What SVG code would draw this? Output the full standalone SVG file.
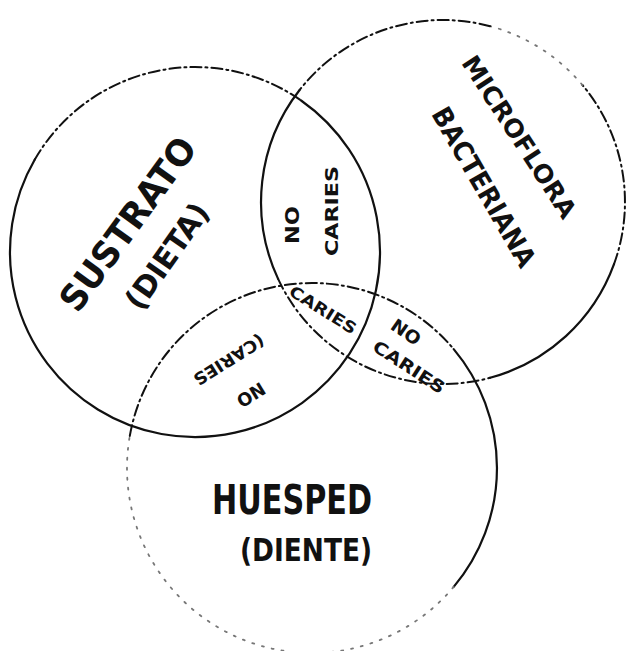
<svg xmlns="http://www.w3.org/2000/svg" width="628" height="651" viewBox="0 0 628 651">
<style>
.solid{fill:none;stroke:#111;stroke-width:2.2;stroke-linecap:round}
.dashdot{fill:none;stroke:#111;stroke-width:2;stroke-dasharray:11 4 2 4;stroke-linecap:round}
.faint{fill:none;stroke:#777;stroke-width:1.8;stroke-dasharray:2 8;stroke-linecap:round}
.lbl{font-family:"DejaVu Sans Condensed","DejaVu Sans","Liberation Sans",sans-serif;font-weight:bold;fill:#111;text-anchor:middle;dominant-baseline:central}
</style>
<rect width="628" height="651" fill="#fff"/>
<g id="connectors">
  <!-- circle 1: Sustrato -->
  <path class="dashdot" d="M34.8,159.5 A185,185 0 0 1 301.1,100.5"/>
  <path class="solid" d="M301.1,100.5 A185,185 0 1 1 34.8,159.5"/>
  <!-- circle 2: Microflora -->
  <path class="solid" d="M299.6,90 A182,182 0 0 0 278.1,278.9"/>
  <path class="dashdot" d="M278.1,278.9 A182,182 0 0 0 490.1,377.8"/>
  <path class="solid" d="M490.1,377.8 A182,182 0 0 0 614,264.2"/>
  <path class="dashdot" d="M614,264.2 A182,182 0 0 0 582.4,85"/>
  <path class="faint" d="M582.4,85 A182,182 0 0 0 490.1,26.2"/>
  <path class="dashdot" d="M490.1,26.2 A182,182 0 0 0 299.6,90"/>
  <!-- circle 3: Huesped -->
  <path class="dashdot" d="M129.8,435.9 A185,185 0 0 1 453.7,349.1"/>
  <path class="solid" d="M453.7,349.1 A185,185 0 0 1 453.7,586.9"/>
  <path class="faint" d="M453.7,586.9 A185,185 0 0 1 129.8,435.9"/>
</g>
<g id="sustrato">
  <text class="lbl" font-size="36" textLength="205" lengthAdjust="spacingAndGlyphs" transform="translate(128,224) rotate(-54)">SUSTRATO</text>
  <text class="lbl" font-size="30" textLength="122" lengthAdjust="spacingAndGlyphs" transform="translate(167,256) rotate(-55)">(DIETA)</text>
</g>
<g id="microflora">
  <text class="lbl" font-size="25" textLength="188" lengthAdjust="spacingAndGlyphs" transform="translate(519,137) rotate(57)">MICROFLORA</text>
  <text class="lbl" font-size="27" textLength="180" lengthAdjust="spacingAndGlyphs" transform="translate(484,187) rotate(60)">BACTERIANA</text>
</g>
<g id="huesped">
  <text class="lbl" font-size="40" textLength="160" lengthAdjust="spacingAndGlyphs" transform="translate(292,500)">HUESPED</text>
  <text class="lbl" font-size="32" textLength="132" lengthAdjust="spacingAndGlyphs" transform="translate(306,550)">(DIENTE)</text>
</g>
<g id="region-sustrato-microflora">
  <text class="lbl" font-size="19" textLength="38" lengthAdjust="spacingAndGlyphs" transform="translate(292,225) rotate(-90)">NO</text>
  <text class="lbl" font-size="18" textLength="90" lengthAdjust="spacingAndGlyphs" transform="translate(331,211) rotate(-90)">CARIES</text>
</g>
<g id="region-center">
  <text class="lbl" font-size="16" textLength="76" lengthAdjust="spacingAndGlyphs" transform="translate(323,310) rotate(32)">CARIES</text>
</g>
<g id="region-microflora-huesped">
  <text class="lbl" font-size="18" textLength="32" lengthAdjust="spacingAndGlyphs" transform="translate(406,332) rotate(35)">NO</text>
  <text class="lbl" font-size="17" textLength="82" lengthAdjust="spacingAndGlyphs" transform="translate(409,367) rotate(33)">CARIES</text>
</g>
<g id="region-sustrato-huesped">
  <text class="lbl" font-size="18" textLength="30" lengthAdjust="spacingAndGlyphs" transform="translate(251,395) rotate(148)">NO</text>
  <text class="lbl" font-size="17" textLength="80" lengthAdjust="spacingAndGlyphs" transform="translate(229,360) rotate(148)">(CARIES</text>
</g>
</svg>
